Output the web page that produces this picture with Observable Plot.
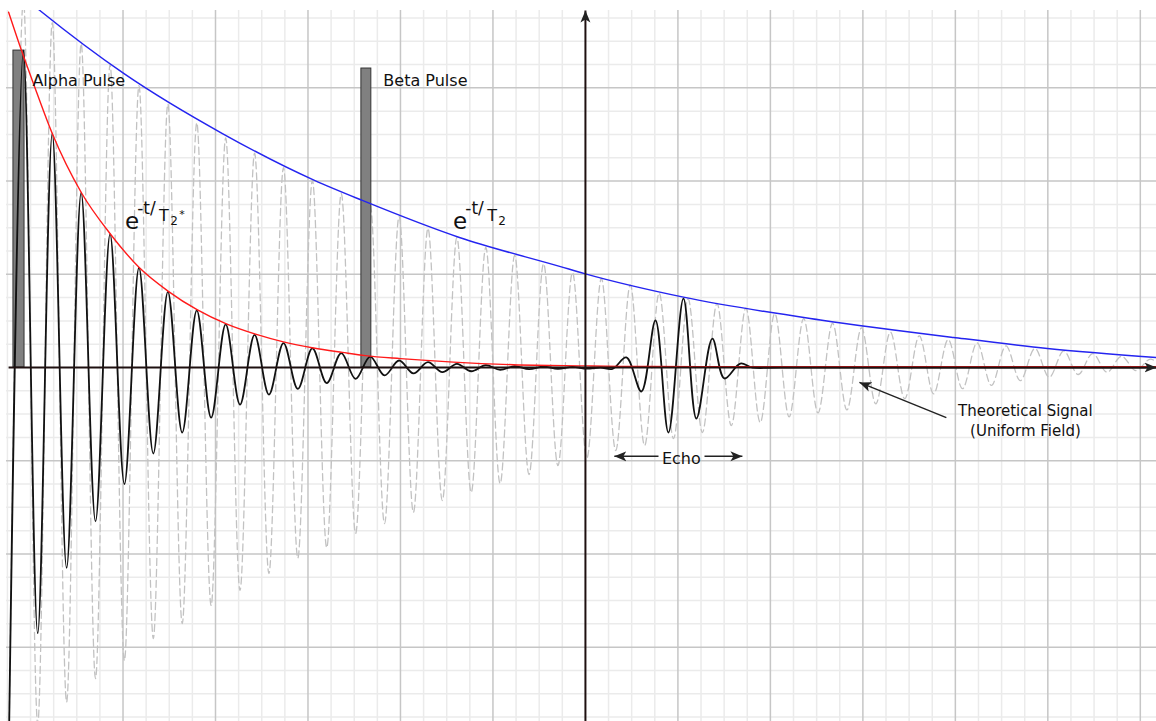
<!DOCTYPE html>
<html><head><meta charset="utf-8">
<script src="https://cdn.jsdelivr.net/npm/d3@7"></script>
<script src="https://cdn.jsdelivr.net/npm/@observablehq/plot@0.6"></script>
<style>html,body{margin:0;padding:0;background:#fff;overflow:hidden;} svg{display:block;}</style>
</head><body><div id="chart"></div>
<script>
// ---- data (grid units: one minor cell = 1) ----
const extremaT = [-24.94,-24.31,-23.69,-23.06,-22.44,-21.81,-21.19,-20.56,-19.94,-19.31,-18.69,-18.06,-17.44,-16.81,-16.19,-15.56,-14.94,-14.31,-13.69,-13.06,-12.44,-11.81,-11.19,-10.56,-9.94,-9.31,-8.69,-8.06,-7.44,-6.81,-6.19,-5.56,-4.94,-4.31,-3.69,-3.06,-2.44,-1.81,-1.19,-0.56,0.06,0.69,1.31,1.94,2.56,3.19,3.81,4.44,5.06,5.69,6.31,6.94,7.56,8.19,8.81,9.44,10.06,10.69,11.31,11.94,12.56,13.19,13.81,14.44,15.06,15.69,16.31,16.94,17.56,18.19,18.81,19.44,20.06,20.69,21.31,21.94,22.56,23.19,23.81,24.44,25.06];
const theoreticalV = [-16.5,15.8,-15.3,14.8,-14.36,13.9,-13.35,13.0,-12.58,12.1,-11.63,11.3,-10.99,10.5,-10.21,9.85,-9.57,9.2,-8.84,8.58,-8.18,8.03,-7.73,7.47,-7.12,7.0,-6.70,6.48,-6.22,5.97,-5.71,5.58,-5.36,5.15,-4.98,4.81,-4.59,4.46,-4.21,4.08,-3.90,3.82,-3.56,3.55,-3.35,3.2,-3.05,2.95,-2.79,2.75,-2.49,2.55,-2.36,2.32,-2.12,2.10,-1.95,1.90,-1.82,1.70,-1.56,1.52,-1.34,1.36,-1.13,1.20,-0.91,1.06,-0.77,0.93,-0.56,0.82,-0.42,0.71,-0.30,0.60,-0.20,0.48,-0.13,0.36,-0.08];
const fidV = [-16.5,13.6,-11.4,10.04,-8.6,7.5,-6.6,5.72,-5.0,4.28,-3.69,3.25,-2.79,2.45,-2.15,1.85,-1.59,1.40,-1.16,1.05,-0.92,0.82,-0.67,0.62,-0.49,0.47,-0.34,0.30,-0.25,0.23,-0.20,0.16,-0.16,0.10,-0.10,0.06,-0.07,0.04,-0.06,0.03,-0.05];
const echoT = [0.65,1.17,1.77,2.42,3.03,3.59,4.24,4.80,5.49,6.01,6.70,7.22,8.43,24.70];
const echoV = [0.0,-0.06,0.43,-1.03,2.02,-2.79,2.96,-2.19,1.24,-0.47,0.17,0.0,0.0,0.0];
const blueT = [-24.31,-23.57,-19.94,-15.70,-11.72,-9.65,-5.45,-1.08,-0.04,4.24,10.16,15.92,19.98,24.70];
const blueV = [15.9,15.3,12.6,10.04,8.03,7.17,5.58,4.33,4.03,3.02,2.04,1.29,0.82,0.43];
const redT = [-24.95,-24.39,-23.88,-23.06,-21.80,-20.54,-19.29,-18.04,-16.78,-15.53,-14.27,-13.06,-11.76,-10.51,-9.52,-8.00,-5.71,-3.11,0.09,1.51,4.97,24.70];
const redV = [15.25,13.6,12.2,10.04,7.5,5.72,4.28,3.27,2.47,1.87,1.43,1.1,0.84,0.65,0.51,0.38,0.23,0.12,0.07,0.05,0.04,0.03];
const pulseNames = ["Alpha Pulse","Beta Pulse"];
const pulseStart = [-24.74,-9.69];
const pulseEnd = [-24.26,-9.26];
const pulseHeight = [13.6,12.83];
const pulseLabelX = [-23.92,-8.74];
const pulseLabelY = [12.28,12.28];

// ---- layout ----
const W = 1156, H = 721, mL = 6, mT = 10, mR = 0, mB = 0;
const xDomain = [-25.04, 24.70], yDomain = [-15.19, 15.32];

const theoretical = extremaT.map((t, i) => ({t, v: theoreticalV[i]}));
const black = extremaT.slice(0, fidV.length).map((t, i) => ({t, v: fidV[i]}))
  .concat(echoT.map((t, i) => ({t, v: echoV[i]})));
const blue = blueT.map((t, i) => ({t, v: blueV[i]}));
const red = redT.map((t, i) => ({t, v: redV[i]}));
const pulses = pulseNames.map((name, i) => ({name, start: pulseStart[i], end: pulseEnd[i], base: 0, h: pulseHeight[i], lx: pulseLabelX[i], ly: pulseLabelY[i]}));

const axes = [
  {x1: -24.95, y1: 0, x2: 24.70, y2: 0},
  {x1: 0, y1: -15.19, x2: 0, y2: 15.32}
];
const pointers = [
  {x1: 3.16, y1: -3.81, x2: 1.25, y2: -3.81},
  {x1: 5.15, y1: -3.81, x2: 6.79, y2: -3.81},
  {x1: 15.61, y1: -2.15, x2: 11.85, y2: -0.64}
];
const centeredLabels = [
  {x: 4.15, y: -3.90, text: "Echo"},
  {x: 19.03, y: -1.88, text: "Theoretical Signal"},
  {x: 19.03, y: -2.72, text: "(Uniform Field)"}
];
const mathLabels = [
  {x: -19.59, y: 5.94, parts: ["e", "-t/", "T", "2", "*"]},
  {x: -5.40, y: 5.94, parts: ["e", "-t/", "T", "2"]}
];

const minorX = d3.range(-25, 25).filter(v => v !== 0 && !(v % 4 === 0 && v >= -20));
const majorX = d3.range(-20, 25, 4).filter(v => v !== 0);
const minorY = d3.range(-15, 16).filter(v => v % 4 !== 0);
const majorY = [-12, -8, -4, 4, 8, 12];

const FONT = "DejaVu Sans, Lucida Grande, sans-serif";

const plot = Plot.plot({
  width: W, height: H,
  marginLeft: mL, marginTop: mT, marginRight: mR, marginBottom: mB,
  style: {background: "#fff", fontFamily: FONT},
  x: {domain: xDomain, axis: null},
  y: {domain: yDomain, axis: null},
  marks: [
    Plot.ruleX(minorX, {stroke: "#ebebeb", strokeWidth: 1.5}),
    Plot.ruleY(minorY, {stroke: "#ebebeb", strokeWidth: 1.5}),
    Plot.ruleX(majorX, {stroke: "#c6c6c6", strokeWidth: 1.5}),
    Plot.ruleY(majorY, {stroke: "#c6c6c6", strokeWidth: 1.5}),
    Plot.line(theoretical, {x: "t", y: "v", curve: "catmull-rom", stroke: "#c2c2c2", strokeWidth: 1.3, strokeDasharray: "7,4", clip: true}),
    Plot.rect(pulses, {x1: "start", x2: "end", y1: "base", y2: "h", fill: "#808080", stroke: "#333", strokeWidth: 1}),
    Plot.line(blue, {x: "t", y: "v", curve: "monotone-x", stroke: "#2424f0", strokeWidth: 1.5, clip: true}),
    Plot.line(black, {x: "t", y: "v", curve: "catmull-rom", stroke: "#111", strokeWidth: 1.8, clip: true}),
    Plot.line(red, {x: "t", y: "v", curve: "monotone-x", stroke: "#ff1a1a", strokeWidth: 1.4, clip: true}),
    Plot.link(axes, {x1: "x1", y1: "y1", x2: "x2", y2: "y2", stroke: "#1e1010", strokeWidth: 2}),
    Plot.link(pointers, {x1: "x1", y1: "y1", x2: "x2", y2: "y2", stroke: "#222", strokeWidth: 1.5}),
    Plot.text(pulses, {x: "lx", y: "ly", text: "name", textAnchor: "start", fontSize: 16, fill: "#111", fontFamily: FONT}),
    Plot.text(centeredLabels.slice(0, 1), {x: "x", y: "y", text: "text", textAnchor: "middle", fontSize: 16, fill: "#111", fontFamily: FONT}),
    Plot.text(centeredLabels.slice(1), {x: "x", y: "y", text: "text", textAnchor: "middle", fontSize: 15, fill: "#111", fontFamily: FONT})
  ]
});

document.getElementById("chart").appendChild(plot);

// filled arrowheads on links
const svg = d3.select(plot);
const defs = svg.append("defs");
defs.append("marker")
  .attr("id", "ahead")
  .attr("viewBox", "0 -6 12 12")
  .attr("refX", 12).attr("refY", 0)
  .attr("markerWidth", 12).attr("markerHeight", 12)
  .attr("markerUnits", "userSpaceOnUse")
  .attr("orient", "auto")
  .append("path")
  .attr("d", "M0,-5L12,0L0,5L3,0Z")
  .attr("fill", "#222");
svg.selectAll('g[aria-label="link"] path').attr("marker-end", "url(#ahead)");

// exponential labels with superscript/subscript parts
const xs = d3.scaleLinear(xDomain, [mL, W - mR]);
const ys = d3.scaleLinear(yDomain, [H - mB, mT]);
const partLayout = [
  {dx: 0, dy: 0, size: 23},
  {dx: 14.5, dy: -15, size: 17},
  {dx: 32, dy: -8, size: 16},
  {dx: 42, dy: -3.5, size: 12},
  {dx: 50, dy: -11, size: 11}
];
for (const m of mathLabels) {
  const px = xs(m.x), py = ys(m.y);
  const t = svg.append("text").attr("font-family", FONT).attr("fill", "#111");
  m.parts.forEach((p, i) => {
    const L = partLayout[i];
    t.append("tspan").attr("x", px + L.dx).attr("y", py + L.dy).style("font-size", L.size + "px").text(p);
  });
}
</script>
</body></html>
